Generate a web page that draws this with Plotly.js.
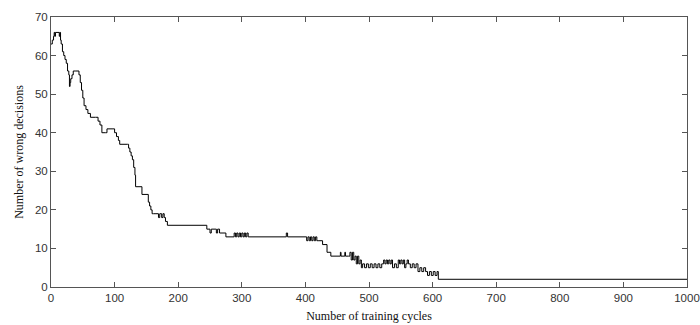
<!DOCTYPE html>
<html>
<head>
<meta charset="utf-8">
<script src="https://cdn.plot.ly/plotly-3.0.1.min.js"></script>
<style>html,body{margin:0;padding:0;background:#fff;}#chart{width:700px;height:325px;}</style>
</head>
<body>
<div id="chart"></div>
<script>
const cycles = [
  0, 2, 4, 5, 6, 7, 13, 14, 15, 16, 18, 20, 22, 24, 26, 28, 29, 30, 31, 33, 35, 38, 44, 46, 48, 50,
  52, 55, 58, 62, 70, 74, 77, 80, 86, 88, 96, 100, 103, 106, 108, 120, 122, 124, 126, 128, 130, 132,
  133, 143, 153, 155, 157, 159, 161, 165, 169, 171, 174, 176, 178, 180, 183,
  245, 250, 252, 258, 260, 262, 265, 275, 288, 290, 292, 294, 296, 298, 300, 302, 304, 306, 308, 310,
  370, 372, 402, 404, 406, 408, 410, 412, 414, 416, 418, 420, 427, 434, 437, 440,
  455, 456, 462, 463, 468,
  470, 472, 474, 476, 478, 480, 482, 484, 486, 488, 490, 493, 496, 499, 502, 505, 508, 511, 514, 517,
  520, 523, 525, 527, 529, 531, 533, 535, 537, 540, 543, 546, 548, 550, 552, 554, 556, 558, 560, 562,
  565, 568, 571, 574, 577, 580, 583, 586, 589, 592, 595, 598, 601, 604, 607, 609, 1000
];
const wrongDecisions = [
  63, 64, 65, 66, 65, 66, 65, 66, 64, 63, 61, 60, 59, 58, 56, 55, 52, 53, 54, 55, 56, 56, 55, 53, 51, 49,
  47, 46, 45, 44, 44, 43, 42, 40, 40, 41, 41, 40, 39, 38, 37, 37, 36, 35, 34, 33, 31, 29,
  26, 24, 22, 21, 20, 19, 19, 19, 18, 19, 18, 19, 18, 17, 16,
  15, 14, 15, 15, 14, 15, 14, 13, 14, 13, 14, 13, 14, 13, 14, 13, 14, 13, 14, 13,
  14, 13, 12, 13, 12, 13, 12, 13, 12, 13, 12, 12, 11, 9, 9, 8,
  9, 8, 9, 8, 8,
  9, 7, 9, 7, 8, 6, 8, 6, 7, 5, 6, 5, 6, 5, 6, 5, 6, 5, 6, 5,
  6, 7, 6, 7, 6, 7, 6, 7, 5, 6, 5, 7, 6, 7, 6, 7, 5, 6, 7, 6,
  5, 6, 5, 6, 4, 5, 4, 5, 4, 3, 4, 3, 4, 3, 4, 2, 2
];
const xTicks = [0, 100, 200, 300, 400, 500, 600, 700, 800, 900, 1000];
const yTicks = [0, 10, 20, 30, 40, 50, 60, 70];

const axisCommon = {
  showgrid: false, zeroline: false, showline: true, mirror: 'ticks',
  linecolor: '#555', linewidth: 1, ticks: 'inside', ticklen: 5, tickcolor: '#555',
  tickfont: {family: 'Liberation Sans, Arial, sans-serif', size: 11.5, color: '#333'}
};

Plotly.newPlot('chart', [{
  x: cycles, y: wrongDecisions, type: 'scatter', mode: 'lines',
  line: {color: '#000', width: 1, shape: 'hv'}, hoverinfo: 'none'
}], {
  width: 700, height: 325,
  margin: {l: 51, r: 13, t: 17, b: 38},
  paper_bgcolor: '#fff', plot_bgcolor: '#fff',
  showlegend: false,
  xaxis: Object.assign({}, axisCommon, {
    range: [0, 1000], tickvals: xTicks, ticktext: xTicks.map(String), automargin: false,
    title: {text: 'Number of training cycles', standoff: 8,
      font: {family: 'Liberation Serif, Times New Roman, serif', size: 12, color: '#111'}}
  }),
  yaxis: Object.assign({}, axisCommon, {
    range: [0, 70], tickvals: yTicks, ticktext: yTicks.map(String), automargin: false,
    title: {text: 'Number of wrong decisions', standoff: 8,
      font: {family: 'Liberation Serif, Times New Roman, serif', size: 12, color: '#111'}}
  })
}, {staticPlot: true});
</script>
</body>
</html>
